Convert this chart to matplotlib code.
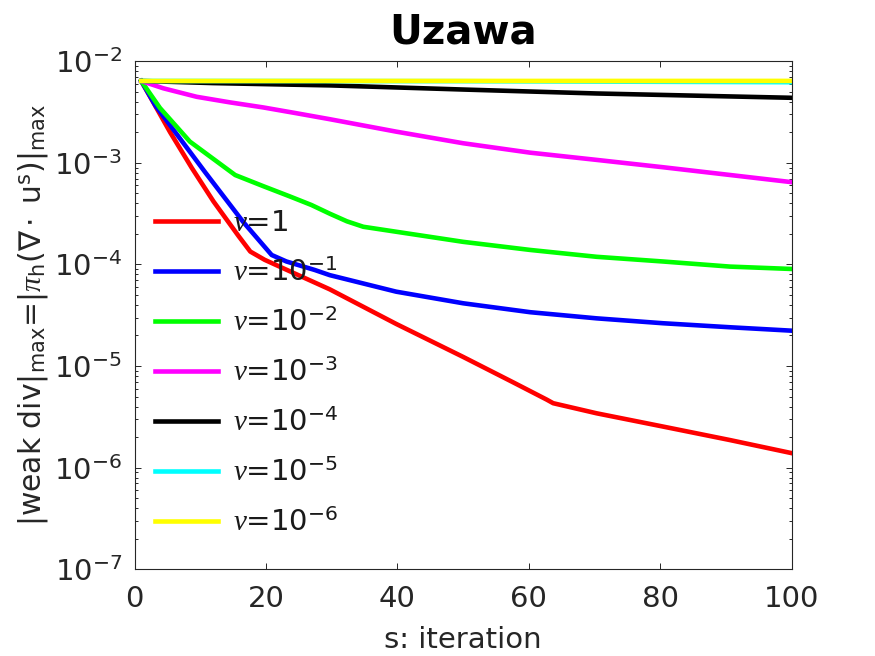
import matplotlib
matplotlib.use("Agg")
import matplotlib.pyplot as plt

plt.rcParams['font.family'] = ['DejaVu Sans']
plt.rcParams['mathtext.fontset'] = 'custom'
plt.rcParams['mathtext.rm'] = 'DejaVu Sans'
plt.rcParams['mathtext.it'] = 'Liberation Serif:italic'
plt.rcParams['mathtext.bf'] = 'DejaVu Sans:bold'

# ---- data ----
x_red = [1, 5.4, 8.7, 12.0, 15.8, 17.6, 19.8, 24.4, 29.7, 39.8, 50, 57.6, 62.7, 63.7, 70.3, 80.4, 90.6, 100]
y_red = [6.40e-3, 2.00e-3, 8.91e-4, 4.17e-4, 1.91e-4, 1.34e-4, 1.11e-4, 8.13e-5, 5.69e-5, 2.60e-5,
         1.23e-5, 6.92e-6, 4.68e-6, 4.31e-6, 3.43e-6, 2.54e-6, 1.87e-6, 1.39e-6]

x_blue = [1, 3.2, 10.7, 16.5, 20.85, 23.1, 27.4, 29.7, 39.8, 50, 60.2, 70.3, 80.4, 90.6, 100]
y_blue = [6.40e-3, 3.63e-3, 8.13e-4, 2.63e-4, 1.24e-4, 1.07e-4, 8.83e-5, 7.85e-5, 5.40e-5, 4.15e-5,
          3.39e-5, 2.95e-5, 2.64e-5, 2.41e-5, 2.23e-5]

x_green = [1, 3.85, 8.4, 15.3, 19.6, 23.6, 26.9, 29.7, 32.3, 34.8, 39.8, 50, 60.2, 70.3, 80.4, 90.6, 100]
y_green = [6.40e-3, 3.47e-3, 1.62e-3, 7.59e-4, 5.89e-4, 4.68e-4, 3.85e-4, 3.16e-4, 2.66e-4, 2.35e-4,
           2.10e-4, 1.67e-4, 1.39e-4, 1.19e-4, 1.07e-4, 9.53e-5, 9.03e-5]

x_mag = [1, 4.36, 9.44, 14.5, 19.6, 24.5, 29.7, 39.8, 50, 60.2, 70.3, 80.4, 90.6, 100]
y_mag = [6.40e-3, 5.42e-3, 4.47e-3, 3.94e-3, 3.51e-3, 3.09e-3, 2.69e-3, 2.03e-3, 1.56e-3,
         1.26e-3, 1.07e-3, 9.06e-4, 7.60e-4, 6.46e-4]

x_black = [1, 11.9, 23.6, 29.7, 50, 70.3, 100]
y_black = [6.40e-3, 6.10e-3, 5.89e-3, 5.79e-3, 5.27e-3, 4.82e-3, 4.37e-3]

x_cyan = [1, 49, 100]
y_cyan = [6.40e-3, 6.37e-3, 6.22e-3]

x_yellow = [1, 100]
y_yellow = [6.40e-3, 6.41e-3]

labels = [r'$\nu$=1', r'$\nu$=10$^{-1}$', r'$\nu$=10$^{-2}$', r'$\nu$=10$^{-3}$',
          r'$\nu$=10$^{-4}$', r'$\nu$=10$^{-5}$', r'$\nu$=10$^{-6}$']
colors = ['#ff0000', '#0000ff', '#00ff00', '#ff00ff', '#000000', '#00ffff', '#ffff00']

series = [(x_red, y_red), (x_blue, y_blue), (x_green, y_green), (x_mag, y_mag),
          (x_black, y_black), (x_cyan, y_cyan), (x_yellow, y_yellow)]

fig = plt.figure(figsize=(8.75, 6.56), dpi=100)
ax = fig.add_axes([0.1539, 0.1322, 0.7509, 0.7744])

for (xs, ys), lab, c in zip(series, labels, colors):
    ax.plot(xs, ys, color=c, lw=3.3, label=lab, solid_joinstyle='round')

ax.set_yscale('log')
ax.set_xlim(0, 100)
ax.set_ylim(1e-7, 1e-2)
ax.set_xticks([0, 20, 40, 60, 80, 100])

dark = '#262626'
for s in ax.spines.values():
    s.set_color(dark)
    s.set_linewidth(0.8)
ax.tick_params(which='both', direction='in', top=True, right=True, colors=dark,
               labelsize=21)
ax.tick_params(which='major', length=4.5, width=0.7)
ax.tick_params(which='minor', length=2.5, width=0.7)
ax.tick_params(axis='x', pad=11)
ax.tick_params(axis='y', pad=9)

ax.set_xlabel('s: iteration', fontsize=21, color=dark, labelpad=10)
ax.set_ylabel(r'|weak div|$_{\rm max}$=|$\pi_{\rm h}$($\nabla\cdot$ u$^{\rm s}$)|$_{\rm max}$',
              fontsize=21.5, color=dark, labelpad=3)
ax.set_title('Uzawa', fontsize=29, fontweight='bold', pad=13)

leg = ax.legend(loc='center left', bbox_to_anchor=(0.0305, 0.386), frameon=False,
                fontsize=21, handlelength=2.17, handletextpad=0.5, labelspacing=0.74,
                borderpad=0, borderaxespad=0)
for t in leg.get_texts():
    t.set_color('#1a1a1a')

fig.savefig('out.png', dpi=100)
